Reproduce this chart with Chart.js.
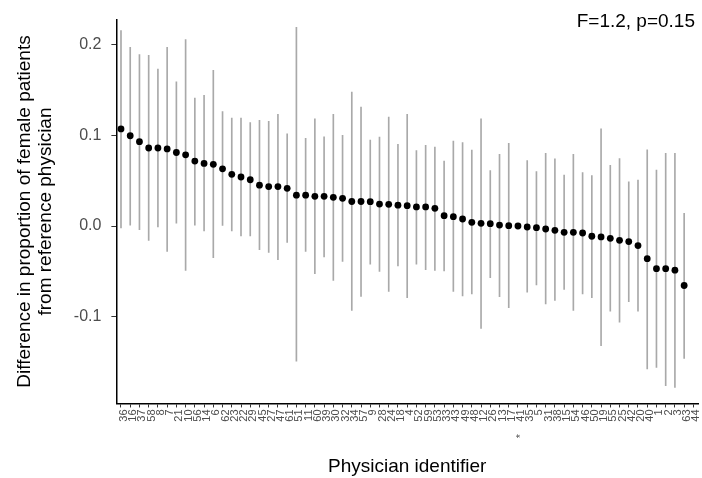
<!DOCTYPE html>
<html>
<head>
<meta charset="utf-8">
<title>Physician differences</title>
<script src="https://cdn.jsdelivr.net/npm/chart.js@4.4.1/dist/chart.umd.min.js"></script>
<style>
    html, body { margin: 0; padding: 0; background: #fff; }
    #wrap { width: 702px; height: 478px; }
</style>
</head>
<body>
<div id="wrap"><canvas id="chart" width="702" height="478"></canvas></div>
<script>
// Physician identifiers in plotted order (the reference physician is marked with *)
const physicianIds = [
    '36', '16', '37', '58', '8', '7', '21', '10', '56', '14',
    '6', '62', '23', '22', '29', '45', '27', '47', '61', '51',
    '11', '60', '39', '30', '32', '34', '57', '9', '28', '24',
    '18', '4', '52', '59', '53', '33', '43', '49', '48', '12',
    '26', '13', '17', '*    41', '35', '5', '31', '38', '15', '54',
    '46', '50', '19', '55', '25', '42', '20', '40', '1', '2',
    '3', '63', '44'
];

// Difference in proportion of female patients vs. reference physician
const estimates = [
    0.107, 0.0995, 0.093, 0.086, 0.086, 0.085, 0.081, 0.0785, 0.0716, 0.069,
    0.068, 0.063, 0.057, 0.054, 0.051, 0.045, 0.0435, 0.0435, 0.0415, 0.034,
    0.034, 0.0327, 0.0327, 0.0316, 0.0305, 0.027, 0.027, 0.0268, 0.0242, 0.0239,
    0.023, 0.0224, 0.021, 0.021, 0.0195, 0.0114, 0.0103, 0.0077, 0.004, 0.003,
    0.0026, 0.001, 0.0004, 0, -0.0011, -0.0018, -0.0033, -0.0048, -0.007, -0.007,
    -0.0077, -0.0113, -0.012, -0.0136, -0.0158, -0.0172, -0.0216, -0.036, -0.047, -0.047,
    -0.0487, -0.0656, null
];

// 95% interval, lower and upper ends
const lowerCI = [
    -0.002, 0.001, -0.004, -0.016, -0.001, -0.028, 0.003, -0.049, 0.001, -0.0055,
    -0.035, 0.000, -0.0055, -0.011, -0.011, -0.026, -0.029, -0.037, -0.018, -0.149,
    -0.028, -0.0525, -0.034, -0.060, -0.039, -0.093, -0.0775, -0.042, -0.050, -0.072,
    -0.044, -0.079, -0.042, -0.048, -0.049, -0.0496, -0.072, -0.077, -0.075, -0.113,
    -0.057, -0.078, -0.090, null, -0.073, -0.065, -0.086, -0.082, -0.070, -0.093,
    -0.075, -0.079, -0.132, -0.094, -0.106, -0.0835, -0.094, -0.1575, -0.156, -0.176,
    -0.178, -0.146, null
];
const upperCI = [
    0.2155, 0.197, 0.189, 0.188, 0.173, 0.197, 0.159, 0.2055, 0.141, 0.144,
    0.1715, 0.126, 0.119, 0.119, 0.114, 0.1165, 0.1155, 0.123, 0.1017, 0.219,
    0.0966, 0.118, 0.0984, 0.123, 0.0999, 0.1476, 0.131, 0.0947, 0.098, 0.12,
    0.090, 0.123, 0.083, 0.089, 0.087, 0.0716, 0.0936, 0.092, 0.0837, 0.118,
    0.061, 0.079, 0.091, null, 0.072, 0.060, 0.080, 0.074, 0.056, 0.079,
    0.059, 0.0557, 0.107, 0.067, 0.0744, 0.0487, 0.0505, 0.084, 0.0615, 0.080,
    0.080, 0.014, null
];

const yTicks = [-0.1, 0, 0.1, 0.2];
const statsText = 'F=1.2, p=0.15';

const FONT = "'Liberation Sans', Arial, Helvetica, sans-serif";

// interval bars as floating bars [low, high]
const intervals = lowerCI.map((lo, i) => (lo === null ? null : [lo, upperCI[i]]));

// small plugin for the F-test note in the top-right corner
const statsNote = {
    id: 'statsNote',
    afterDraw(chart) {
        const ctx = chart.ctx;
        const area = chart.chartArea;
        ctx.save();
        ctx.font = '19px ' + FONT;
        ctx.fillStyle = '#000';
        ctx.textAlign = 'right';
        ctx.textBaseline = 'middle';
        ctx.fillText(statsText, area.right - 3, area.top + 2);
        ctx.restore();
    }
};

new Chart(document.getElementById('chart'), {
    type: 'bar',
    data: {
        labels: physicianIds,
        datasets: [
            {
                type: 'line',
                data: estimates,
                showLine: false,
                pointRadius: 3.4,
                pointBorderWidth: 0,
                pointBackgroundColor: '#000',
                borderColor: '#000',
                order: 0
            },
            {
                type: 'bar',
                data: intervals,
                backgroundColor: '#a9a9a9',
                borderWidth: 0,
                barThickness: 1,
                order: 1
            }
        ]
    },
    options: {
        responsive: false,
        animation: false,
        layout: { padding: { left: 14, right: 4, top: 18, bottom: 0 } },
        plugins: {
            legend: { display: false },
            tooltip: { enabled: false }
        },
        scales: {
            x: {
                offset: true,
                afterFit(scale) {
                    // let the panel run to the right edge like the original
                    scale.paddingRight = 0;
                },
                grid: {
                    display: true,
                    drawOnChartArea: false,
                    drawTicks: true,
                    tickLength: 4,
                    tickColor: '#333',
                    offset: false
                },
                border: { display: true, color: '#000', width: 1.5 },
                ticks: {
                    autoSkip: false,
                    maxRotation: 90,
                    minRotation: 90,
                    padding: 2,
                    labelOffset: 3,
                    color: '#4d4d4d',
                    font: { family: FONT, size: 11 }
                },
                title: {
                    display: true,
                    text: 'Physician identifier',
                    color: '#000',
                    font: { family: FONT, size: 19 },
                    padding: { top: 15, bottom: 0 }
                }
            },
            y: {
                min: -0.1956,
                max: 0.2275,
                afterBuildTicks(scale) {
                    scale.ticks = yTicks.map(v => ({ value: v }));
                },
                grid: {
                    display: true,
                    drawOnChartArea: false,
                    drawTicks: true,
                    tickLength: 5,
                    tickColor: '#333'
                },
                border: { display: true, color: '#000', width: 1.5 },
                ticks: {
                    padding: 10,
                    color: '#4d4d4d',
                    font: { family: FONT, size: 16 },
                    callback: v => v.toFixed(1)
                },
                title: {
                    display: true,
                    text: ['Difference in proportion of female patients', 'from reference physician'],
                    color: '#000',
                    font: { family: FONT, size: 19, lineHeight: 1.1 },
                    padding: { top: 0, bottom: 8 }
                }
            }
        }
    },
    plugins: [statsNote]
});
</script>
</body>
</html>
